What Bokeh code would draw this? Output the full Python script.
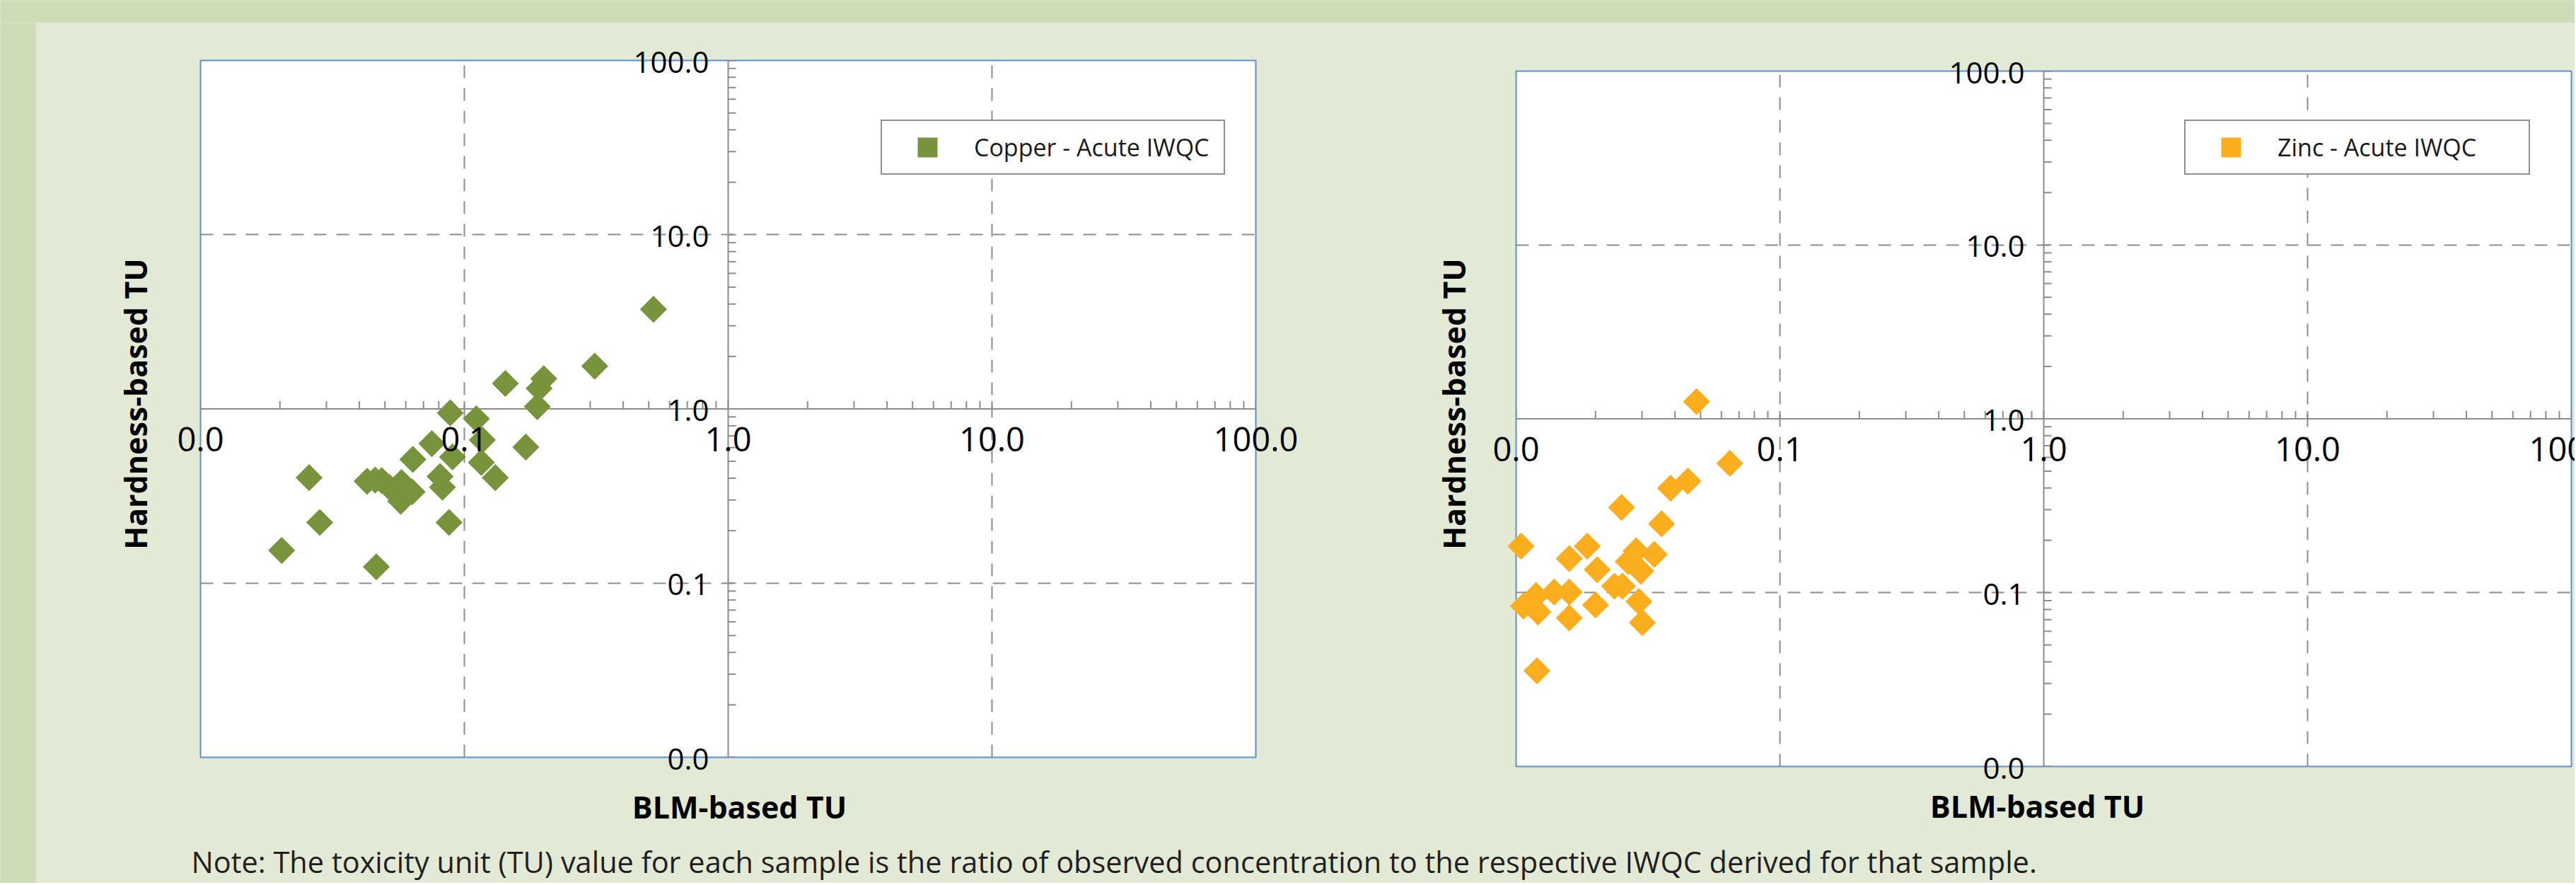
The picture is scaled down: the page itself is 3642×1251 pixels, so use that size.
import numpy as np
from bokeh.plotting import figure
from bokeh.layouts import row, column
from bokeh.models import Span, Label, Legend, LegendItem, Grid, FixedTicker
from bokeh.core.properties import value
from bokeh.embed import file_html
from bokeh.resources import INLINE

# ---------------- data ----------------
cu_blm = [0.521, 0.312, 0.143, 0.200, 0.192, 0.189, 0.0884, 0.111, 0.117, 0.0753,
          0.171, 0.0638, 0.0902, 0.116, 0.131, 0.0809, 0.0826, 0.0428, 0.0459, 0.0486,
          0.0520, 0.0578, 0.0574, 0.0634, 0.0258, 0.0283, 0.0203, 0.0464, 0.0875]
cu_hard = [3.73, 1.76, 1.40, 1.49, 1.31, 1.03, 0.948, 0.877, 0.663, 0.632,
           0.604, 0.513, 0.530, 0.493, 0.403, 0.409, 0.355, 0.384, 0.390, 0.388,
           0.355, 0.378, 0.295, 0.334, 0.403, 0.223, 0.154, 0.124, 0.223]

zn_blm = [0.0483, 0.0646, 0.0448, 0.0385, 0.0251, 0.0356, 0.01044, 0.0186, 0.0159, 0.0285,
          0.0334, 0.0266, 0.0297, 0.0203, 0.0236, 0.0253, 0.01393, 0.0159, 0.0119, 0.01066,
          0.0121, 0.0200, 0.0159, 0.0292, 0.0301, 0.0120]
zn_hard = [1.255, 0.554, 0.438, 0.399, 0.309, 0.249, 0.185, 0.185, 0.157, 0.174,
           0.166, 0.151, 0.133, 0.1355, 0.109, 0.109, 0.1007, 0.1007, 0.0962, 0.0836,
           0.0774, 0.0849, 0.0716, 0.0889, 0.0672, 0.0355]

major_ticks = [0.01, 0.1, 1.0, 10.0, 100.0]
tick_labels = ["0.0", "0.1", "1.0", "10.0", "100.0"]
grid_ticks = [0.1, 10.0]
minor_mult = [1, 2, 3, 4, 5, 6, 7, 8, 9]
all_ticks = [d * m for d in major_ticks[:-1] for m in minor_mult] + [major_ticks[-1]]

x_title = "BLM-based TU"
y_title = "Hardness-based TU"
cu_label = "Copper - Acute IWQC"
zn_label = "Zinc - Acute IWQC"
note_text = ("Note: The toxicity unit (TU) value for each sample is the ratio of observed "
             "concentration to the respective IWQC derived for that sample.")

# ---------------- style ----------------
BAND = "#cfdcb8"
PANEL = "#e2ead6"
AXIS = "#8c8c8c"
FRAME = "#5b8fd3"
FONT = "Open Sans"
CU_COLOR = "#77933c"
ZN_COLOR = "#faad1d"


def blank(w, h, color):
    f = figure(width=w, height=h, toolbar_location=None, output_backend="svg", title=None,
               x_axis_location=None, y_axis_location=None, min_border=0,
               frame_align=False)
    f.grid.visible = False
    f.outline_line_color = None
    f.background_fill_color = color
    f.border_fill_color = color
    return f


def panel(w, h, mbl, mbr, mbt, mbb, xs, ys, color, label, leg_loc, leg_labw,
          xt_off, yt_off):
    p = figure(width=w, height=h, x_axis_type="log", y_axis_type="log",
               x_range=(0.01, 100), y_range=(0.01, 100),
               x_axis_location=None, y_axis_location=None,
               toolbar_location=None, output_backend="svg", title=None,
               min_border_left=mbl, min_border_right=mbr,
               min_border_top=mbt, min_border_bottom=mbb,
               frame_align=False)
    p.grid.visible = False
    p.background_fill_color = "white"
    p.border_fill_color = PANEL
    p.outline_line_color = FRAME
    p.outline_line_width = 2

    for dim in (0, 1):
        p.add_layout(Grid(dimension=dim, ticker=FixedTicker(ticks=grid_ticks),
                          grid_line_color=AXIS, grid_line_width=2,
                          grid_line_dash="18 14"))
    p.add_layout(Span(location=1.0, dimension="width", line_color=AXIS,
                      line_width=2, level="underlay"))
    p.add_layout(Span(location=1.0, dimension="height", line_color=AXIS,
                      line_width=2, level="underlay"))

    # tick marks of the crossing axes
    p.ray(x=all_ticks, y=[1.0] * len(all_ticks), length=11, length_units="screen",
          angle=np.pi / 2, line_color=AXIS, line_width=2, level="underlay")
    p.ray(x=[1.0] * len(all_ticks), y=all_ticks, length=11, length_units="screen",
          angle=0, line_color=AXIS, line_width=2, level="underlay")

    r = p.scatter(xs, ys, marker="square", size=27, angle=np.pi / 4,
                  fill_color=color, line_color=None, level="annotation")

    # tick labels
    p.text(x=major_ticks, y=[1.0] * len(major_ticks), text=tick_labels,
           text_align="center", text_baseline="alphabetic", y_offset=43,
           text_font=value(FONT), text_font_size="47px", text_color="black",
           level="annotation")
    p.text(x=[1.0] * len(major_ticks), y=major_ticks, text=tick_labels,
           text_align="right", text_baseline="alphabetic", x_offset=-27, y_offset=2,
           text_font=value(FONT), text_font_size="42px", text_color="black",
           level="annotation")

    # axis titles (anchored to the frame through the scales)
    p.text(x=[1.0], y=[0.01], text=[x_title], text_align="center",
           text_baseline="alphabetic", x_offset=xt_off[0], y_offset=xt_off[1],
           text_font=value(FONT), text_font_style="bold", text_font_size="43px",
           text_color="black", level="annotation")
    p.text(x=[0.01], y=[1.0], text=[y_title], text_align="center",
           text_baseline="alphabetic", angle=np.pi / 2,
           x_offset=yt_off[0], y_offset=yt_off[1],
           text_font=value(FONT), text_font_style="bold", text_font_size="43px",
           text_color="black", level="annotation")

    leg = Legend(items=[LegendItem(label=value(label), renderers=[r])],
                 location=leg_loc, padding=2, glyph_width=124, glyph_height=70,
                 label_standoff=4, label_width=leg_labw,
                 label_text_font=FONT, label_text_font_size="34px",
                 label_text_color="#1a1a1a",
                 border_line_color="#231f20", border_line_width=2,
                 background_fill_color="white", background_fill_alpha=1.0,
                 spacing=0, margin=0)
    p.add_layout(leg)
    return p


# page has no body margin: layout coordinates == picture coordinates
pL = panel(1909, 1143, 232, 185, 53, 105, cu_blm, cu_hard, CU_COLOR, cu_label,
           (962, 823), 351, (16, 70), (-92, -7))
pR = panel(1680, 1143, 183, 5, 68, 92, zn_blm, zn_hard, ZN_COLOR, zn_label,
           (945, 836), 353, (-9, 56), (-88, -21))

note = blank(3589, 73, PANEL)
note.add_layout(Label(x=219, y=31, x_units="screen", y_units="screen", text=note_text,
                      text_font=FONT, text_font_size="41.5px", text_color="#231f20",
                      text_baseline="alphabetic"))

top = blank(3640, 32, BAND)
left = blank(51, 1216, BAND)

bg = {"background-color": PANEL}
layout = column(top,
                row(left,
                    column(row(pL, pR, styles=bg), note, styles=bg),
                    styles=bg),
                styles=bg)

open("out.html", "w").write(file_html(layout, INLINE))
